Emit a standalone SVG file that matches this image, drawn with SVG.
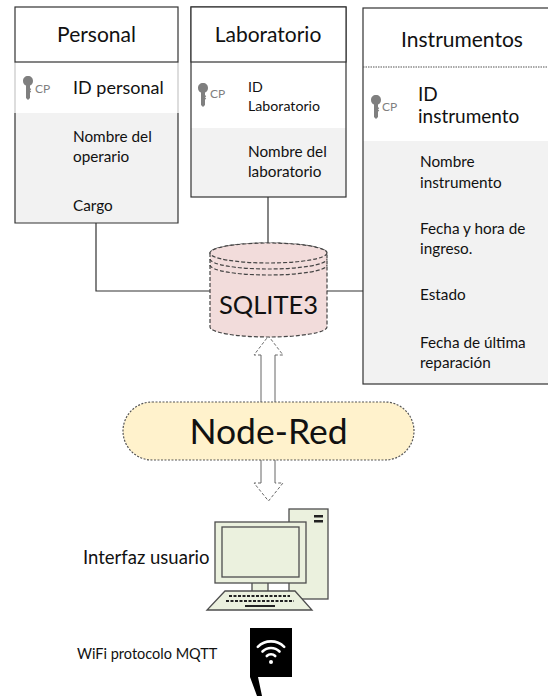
<svg xmlns="http://www.w3.org/2000/svg" width="548" height="696" viewBox="0 0 548 696">
  <defs>
    <style>
      text { font-family: "Lato", "Open Sans", sans-serif; fill: #111; }
      .hdr { font-size: 21px; text-anchor: middle; }
      .idt { font-size: 18px; }
      .fld { font-size: 15.3px; }
      .cp { font-size: 12px; fill: #7f7f7f; }
      .box { fill: none; stroke: #333; stroke-width: 1.2; }
      .head { fill: #fff; stroke: #333; stroke-width: 1.2; }
      .light { fill: #fff; }
      .gray { fill: #f2f2f2; }
      .side { stroke: #bbb; stroke-width: 1; fill: none; }
      .wire { stroke: #333; stroke-width: 1.2; fill: none; }
      .key { fill: #7f7f7f; }
      .pc { fill: #ebf1de; stroke: #4d4d4d; stroke-width: 1.3; }
    </style>
    <!-- primary-key symbol -->
    <symbol id="keyIcon" viewBox="0 0 10 24">
      <path class="key" d="M5 0 C8 0 10 2 10 5 C10 7.5 8.5 9 7 9.6 L7 12 L8.2 13.2 L7 14.4 L8.2 15.6 L7 16.8 L7 22 L5 24 L3 22 L3 9.6 C1.5 9 0 7.5 0 5 C0 2 2 0 5 0 Z"/>
    </symbol>
  </defs>

  <!-- connectors -->
  <g id="connectors">
    <polyline class="wire" points="96,223 96,291 210,291"/>
    <line class="wire" x1="268" y1="197" x2="268" y2="244"/>
    <line class="wire" x1="327" y1="291" x2="363" y2="291"/>
    <!-- up arrow: Node-Red to database -->
    <g fill="#fff" stroke="#666" stroke-width="1">
      <path d="M261 402 L261 355 M275 355 L275 402"/>
      <path d="M261 355 L254 355 L268.5 336 L283 355 L275 355" stroke-dasharray="3 2"/>
      <!-- down arrow: Node-Red to user interface -->
      <path d="M261 460 L261 483 M275 460 L275 483"/>
      <path d="M261 483 L254 483 L268.5 501 L283 483 L275 483" stroke-dasharray="3 2"/>
    </g>
  </g>

  <!-- table: Personal -->
  <g id="personal">
    <rect class="light" x="15" y="62" width="163" height="51"/>
    <rect class="gray" x="15" y="113" width="163" height="110"/>
    <path class="side" d="M15 62 L15 113 M178 62 L178 113"/>
    <path class="wire" d="M15 113 L15 223 L178 223 L178 113"/>
    <rect class="head" x="15" y="7" width="163" height="55"/>
    <text class="hdr" x="96.5" y="42">Personal</text>
    <use href="#keyIcon" x="23" y="76" width="10" height="24"/>
    <text class="cp" x="35" y="93">CP</text>
    <text class="idt" x="73" y="94">ID personal</text>
    <text class="fld" x="73" y="142">Nombre del</text>
    <text class="fld" x="73" y="162">operario</text>
    <text class="fld" x="73" y="211">Cargo</text>
  </g>

  <!-- table: Laboratorio -->
  <g id="laboratorio">
    <rect class="light" x="191" y="62" width="155" height="66"/>
    <rect class="gray" x="191" y="128" width="155" height="69"/>
    <rect class="box" x="191" y="7" width="155" height="190"/>
    <rect class="head" x="191" y="7" width="155" height="55"/>
    <text class="hdr" x="268" y="42">Laboratorio</text>
    <use href="#keyIcon" x="198" y="83" width="10" height="24"/>
    <text class="cp" x="210" y="98">CP</text>
    <text x="248" y="92" font-size="14.2">ID</text>
    <text x="248" y="111" font-size="14.2">Laboratorio</text>
    <text class="fld" x="248" y="157">Nombre del</text>
    <text class="fld" x="248" y="177">laboratorio</text>
  </g>

  <!-- table: Instrumentos -->
  <g id="instrumentos">
    <rect class="light" x="363" y="67" width="190" height="74"/>
    <rect class="gray" x="363" y="141" width="190" height="243"/>
    <rect class="box" x="363" y="8" width="190" height="376"/>
    <line x1="363" y1="67" x2="548" y2="67" stroke="#555" stroke-width="1.2" stroke-dasharray="1.5 1"/>
    <text class="hdr" x="462" y="47" font-size="22">Instrumentos</text>
    <use href="#keyIcon" x="371" y="95" width="10" height="24"/>
    <text class="cp" x="382" y="111">CP</text>
    <text x="418" y="101" font-size="19">ID</text>
    <text x="418" y="123" font-size="19">instrumento</text>
    <text class="fld" x="420" y="167">Nombre</text>
    <text class="fld" x="420" y="188">instrumento</text>
    <text class="fld" x="420" y="234">Fecha y hora de</text>
    <text class="fld" x="420" y="254">ingreso.</text>
    <text class="fld" x="420" y="300">Estado</text>
    <text class="fld" x="420" y="348">Fecha de última</text>
    <text class="fld" x="420" y="368">reparación</text>
  </g>

  <!-- database cylinder -->
  <g id="sqlite3">
    <path d="M210 253 L210 327 A58.5 10 0 0 0 327 327 L327 253 A58.5 10 0 0 0 210 253 Z" fill="#f2dcdb" stroke="#444" stroke-width="1.2" stroke-dasharray="4 2"/>
    <ellipse cx="268.5" cy="253" rx="58.5" ry="10" fill="#f2dcdb" stroke="#444" stroke-width="1.2" stroke-dasharray="4 2"/>
    <path d="M210 259 A58.5 10 0 0 0 327 259 M210 265 A58.5 10 0 0 0 327 265" fill="none" stroke="#444" stroke-width="1.2" stroke-dasharray="4 2"/>
    <text x="268.5" y="314" font-size="25.5" text-anchor="middle">SQLITE3</text>
  </g>

  <!-- Node-Red -->
  <g id="node-red">
    <rect x="123" y="402" width="291" height="58" rx="29" ry="29" fill="#fff2cc" stroke="#555" stroke-width="1.2" stroke-dasharray="2 1.5"/>
    <text x="268.5" y="444" font-size="35.5" text-anchor="middle">Node-Red</text>
  </g>

  <!-- user interface computer -->
  <g id="interfaz-usuario">
    <rect class="pc" x="289" y="509" width="39" height="90"/>
    <rect x="314" y="515" width="9" height="2.5" fill="#222"/>
    <rect x="314" y="520" width="9" height="2.5" fill="#222"/>
    <rect class="pc" x="252" y="582" width="16" height="10"/>
    <rect class="pc" x="215" y="522" width="91" height="61"/>
    <rect class="pc" x="222" y="527" width="77" height="50"/>
    <polygon class="pc" points="225,591 295,591 312,610 207,610"/>
    <path d="M229 596 L290 596 M226 601 L294 601" stroke="#222" stroke-width="2" stroke-dasharray="3 1.5"/>
    <line x1="245" y1="606" x2="275" y2="606" stroke="#222" stroke-width="2"/>
    <text x="83" y="564" font-size="18.5">Interfaz usuario</text>
  </g>

  <!-- WiFi link -->
  <g id="wifi">
    <path d="M250 628 L292 628 L292 677 L258 677 L262 696 L257 696 L250 677 Z" fill="#000"/>
    <g fill="none" stroke="#fff" stroke-width="2.6" stroke-linecap="round">
      <path d="M262.5 651.5 A12 12 0 0 1 279.5 651.5"/>
      <path d="M257.8 646.8 A18.7 18.7 0 0 1 284.2 646.8"/>
      <path d="M266.8 656 A6 6 0 0 1 275.2 656"/>
    </g>
    <circle cx="271" cy="662" r="2" fill="#fff"/>
    <text x="77" y="659" font-size="14.5">WiFi protocolo MQTT</text>
  </g>
</svg>
